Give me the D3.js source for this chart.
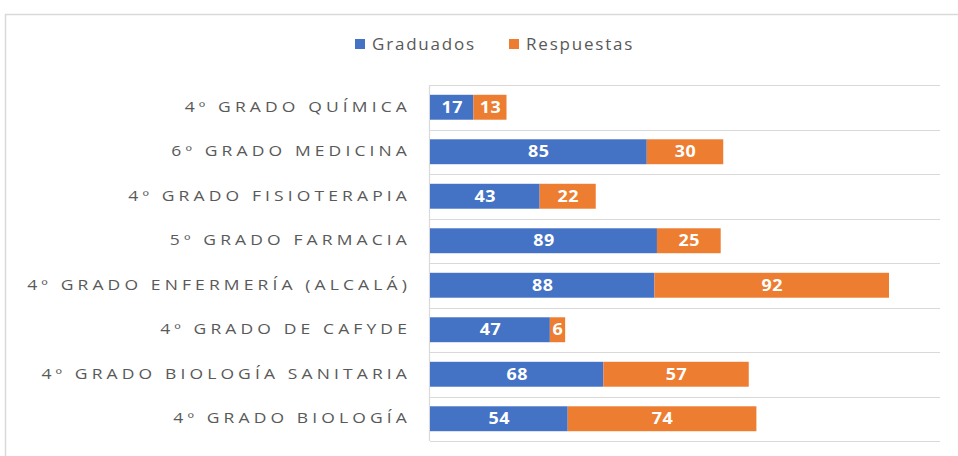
<!DOCTYPE html>
<html>
<head>
<meta charset="utf-8">
<script src="https://cdn.jsdelivr.net/npm/d3@7"></script>
<style>
  body { margin: 0; background: #fff; }
  svg { display: block; }
</style>
</head>
<body>
<div id="chart"></div>
<script>
// data
var categories = [
    "4º GRADO QUÍMICA",
    "6º GRADO MEDICINA",
    "4º GRADO FISIOTERAPIA",
    "5º GRADO FARMACIA",
    "4º GRADO ENFERMERÍA (ALCALÁ)",
    "4º GRADO DE CAFYDE",
    "4º GRADO BIOLOGÍA SANITARIA",
    "4º GRADO BIOLOGÍA"
];
var graduados = [17, 85, 43, 89, 88, 47, 68, 54];
var respuestas = [13, 30, 22, 25, 92, 6, 57, 74];
var seriesNames = ["Graduados", "Respuestas"];
var colors = ["#4472C4", "#ED7D31"];

var width = 958, height = 456;
var margin = { top: 85, right: 18, bottom: 15, left: 430 };

var svg = d3.select("#chart")
    .append("svg")
    .attr("width", width)
    .attr("height", height);

// chart frame (cut by the window on right and bottom)
svg.append("rect")
    .attr("x", 5.5)
    .attr("y", 14.5)
    .attr("width", 980)
    .attr("height", 480)
    .attr("fill", "none")
    .attr("stroke", "#d9d9d9")
    .attr("stroke-width", 1.5);

var x = d3.scaleLinear()
    .domain([0, 200])
    .range([margin.left, width - margin.right]);

var y = d3.scaleBand()
    .domain(categories)
    .range([margin.top, height - margin.bottom])
    .paddingInner(0.44)
    .paddingOuter(0.22);

var step = y.step();

// horizontal gridlines between categories
var gridYs = categories.map(c => y(c) - y.paddingOuter() * step);
gridYs.push(height - margin.bottom);
svg.append("g")
    .selectAll("line")
    .data(gridYs)
    .join("line")
    .attr("x1", margin.left)
    .attr("x2", width - margin.right)
    .attr("y1", d => Math.round(d) + 0.5)
    .attr("y2", d => Math.round(d) + 0.5)
    .attr("stroke", "#d9d9d9")
    .attr("stroke-width", 1.2);

// vertical axis line
svg.append("line")
    .attr("x1", margin.left - 0.5)
    .attr("x2", margin.left - 0.5)
    .attr("y1", margin.top)
    .attr("y2", height - margin.bottom)
    .attr("stroke", "#d9d9d9")
    .attr("stroke-width", 1.2);

var stackData = categories.map((c, i) => ({ cat: c, Graduados: graduados[i], Respuestas: respuestas[i] }));
var stacked = d3.stack().keys(seriesNames)(stackData);

var layers = svg.append("g")
    .selectAll("g")
    .data(stacked)
    .join("g")
    .attr("fill", (d, i) => colors[i]);

layers.selectAll("rect")
    .data(d => d)
    .join("rect")
    .attr("x", d => x(d[0]))
    .attr("y", d => y(d.data.cat))
    .attr("width", d => x(d[1]) - x(d[0]))
    .attr("height", y.bandwidth());

// value labels, centred in each segment (the source is a bit stretched sideways)
layers.selectAll("text")
    .data(d => d)
    .join("text")
    .attr("transform", d => "translate(" + ((x(d[0]) + x(d[1])) / 2 + 0.5) + "," + (y(d.data.cat) + y.bandwidth() / 2 + 1) + ") scale(1.12,1)")
    .attr("text-anchor", "middle")
    .attr("dominant-baseline", "middle")
    .attr("fill", "#fff")
    .style("font-family", "'Open Sans', sans-serif")
    .style("font-weight", "bold")
    .style("font-size", "16px")
    .style("letter-spacing", "0.5px")
    .text(d => d[1] - d[0]);

// category labels
svg.append("g")
    .selectAll("text")
    .data(categories)
    .join("text")
    .attr("transform", d => "translate(411," + (y(d) + y.bandwidth() / 2 + 1) + ") scale(1.25,1)")
    .attr("text-anchor", "end")
    .attr("dominant-baseline", "middle")
    .attr("fill", "#595959")
    .style("font-family", "'Open Sans', sans-serif")
    .style("font-size", "14px")
    .style("letter-spacing", "3.3px")
    .text(d => d);

// legend
var legendX = [355, 509];
var legend = svg.append("g")
    .selectAll("g")
    .data(seriesNames)
    .join("g")
    .attr("transform", (d, i) => "translate(" + legendX[i] + ",44)");

legend.append("rect")
    .attr("x", 0)
    .attr("y", -5)
    .attr("width", 10)
    .attr("height", 10)
    .attr("fill", (d, i) => colors[i]);

legend.append("text")
    .attr("x", 17)
    .attr("y", 1)
    .attr("dominant-baseline", "middle")
    .attr("fill", "#595959")
    .style("font-family", "'Open Sans', sans-serif")
    .style("font-size", "17px")
    .style("letter-spacing", "1.8px")
    .text(d => d);
</script>
</body>
</html>
